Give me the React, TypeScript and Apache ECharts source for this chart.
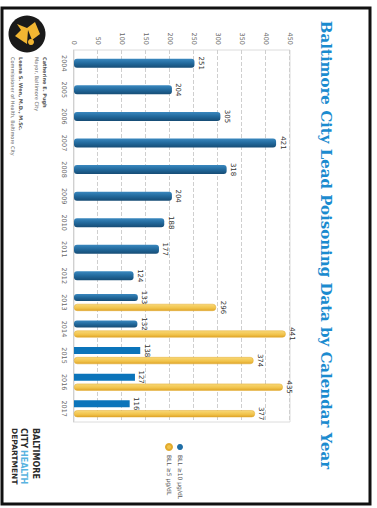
import React, { useEffect, useRef } from "react";
import * as echarts from "echarts";

const years = ["2004", "2005", "2006", "2007", "2008", "2009", "2010", "2011", "2012", "2013", "2014", "2015", "2016", "2017"];
const blueSingle = [251, 204, 305, 421, 318, 204, 188, 177, 124, null, null, null, null, null];
const blueDual = [null, null, null, null, null, null, null, null, null, 133, 132, 138, 127, 116];
const yellowDual = [null, null, null, null, null, null, null, null, null, 296, 441, 374, 435, 377];
const legendNames = ["BLL \u226510 \u00b5g/dL", "BLL \u22655 \u00b5g/dL"];
const titleText = "Baltimore City Lead Poisoning Data by Calendar Year";
const mayorLines = ["Catherine E. Pugh", "Mayor, Baltimore City"];
const commissionerLines = ["Leana S. Wen, M.D., M.Sc.", "Commissioner of Health, Baltimore City"];

export default function App() {
  const ref = useRef<HTMLDivElement>(null);
  useEffect(() => {
    if (!ref.current) return;
    const chart = echarts.init(ref.current, null, { renderer: "svg" });
    const blueGrad = new echarts.graphic.LinearGradient(0, 0, 1, 0, [
      { offset: 0, color: "#3a88bf" },
      { offset: 0.5, color: "#22699c" },
      { offset: 1, color: "#164c75" },
    ]);
    const yellowGrad = new echarts.graphic.LinearGradient(0, 0, 1, 0, [
      { offset: 0, color: "#f8d878" },
      { offset: 0.6, color: "#f1c34a" },
      { offset: 1, color: "#dea42a" },
    ]);
    const labelStyle = { show: true, position: "top", fontSize: 7, color: "#333", distance: 3, fontFamily: "DejaVu Sans" };
    chart.setOption({
      animation: false,
      backgroundColor: "#fff",
      grid: { left: 50, right: 86, top: 87, bottom: 74, show: true, borderColor: "#dcdcdc", borderWidth: 1 },
      xAxis: [
        {
          type: "category",
          data: years,
          axisLine: { show: true, lineStyle: { color: "#d0d0d0" } },
          axisTick: { show: false },
          axisLabel: { fontSize: 6.5, color: "#666", margin: 7, fontFamily: "DejaVu Sans" },
        },
        { type: "category", data: years, show: false },
      ],
      yAxis: {
        type: "value",
        min: 0,
        max: 450,
        interval: 50,
        axisLine: { show: false },
        axisTick: { show: false },
        axisLabel: { fontSize: 6.5, color: "#666", margin: 5, fontFamily: "DejaVu Sans", showMinLabel: true, showMaxLabel: true },
        splitLine: { lineStyle: { color: "#cfcfcf", type: "dashed" } },
      },
      legend: {
        orient: "vertical",
        left: 438,
        top: 189,
        itemWidth: 6,
        itemHeight: 6,
        itemGap: 4,
        icon: "circle",
        textStyle: { fontSize: 6, color: "#555", fontFamily: "DejaVu Sans" },
        data: [
          { name: legendNames[0], itemStyle: { color: "#1f6ea6" } },
          { name: legendNames[1], itemStyle: { color: "#f1c34a" } },
        ],
      },
      series: [
        {
          type: "bar",
          name: legendNames[0],
          xAxisIndex: 0,
          data: blueSingle,
          barWidth: 9,
          itemStyle: { color: blueGrad, borderRadius: 3 },
          label: labelStyle,
        },
        {
          type: "bar",
          name: legendNames[0],
          xAxisIndex: 1,
          data: blueDual.map((v, i) =>
            v == null ? null : i >= 11 ? { value: v, itemStyle: { color: "#0b74ba", borderRadius: 0 } } : v
          ),
          barWidth: 7,
          barGap: "43%",
          itemStyle: { color: blueGrad, borderRadius: 3 },
          label: labelStyle,
        },
        {
          type: "bar",
          name: legendNames[1],
          xAxisIndex: 1,
          data: yellowDual,
          barWidth: 7,
          barGap: "43%",
          itemStyle: { color: yellowGrad, borderRadius: 3, borderColor: "#e2aa2c", borderWidth: 0.5 },
          label: labelStyle,
        },
      ],
      graphic: [
        { type: "rect", shape: { x: 8, y: 7, width: 496, height: 368 }, style: { fill: "none", stroke: "#111", lineWidth: 3 }, z: 100 },
        {
          type: "text",
          x: 245,
          y: 51,
          style: {
            text: titleText,
            fill: "#1b8bcf",
            font: "bold 15px 'DejaVu Serif'",
            textAlign: "center",
            textVerticalAlign: "middle",
          },
        },
        { type: "circle", shape: { cx: 34, cy: 350, r: 18.5 }, style: { fill: "#1a1a1a" } },
        { type: "polygon", shape: { points: [[22, 342], [34, 337], [40, 345], [30, 349], [44, 350], [36, 362], [30, 356], [24, 360], [28, 350]] }, style: { fill: "#f2b632" } },
        { type: "circle", shape: { cx: 42, cy: 346, r: 3 }, style: { fill: "#f2b632" } },
        { type: "text", x: 57, y: 332, style: { text: mayorLines[0], fill: "#555", font: "bold 5px 'DejaVu Sans'", textVerticalAlign: "middle" } },
        { type: "text", x: 57, y: 340, style: { text: mayorLines[1], fill: "#666", font: "5px 'DejaVu Sans'", textVerticalAlign: "middle" } },
        { type: "text", x: 57, y: 356, style: { text: commissionerLines[0], fill: "#555", font: "bold 5px 'DejaVu Sans'", textVerticalAlign: "middle" } },
        { type: "text", x: 57, y: 364, style: { text: commissionerLines[1], fill: "#666", font: "5px 'DejaVu Sans'", textVerticalAlign: "middle" } },
        { type: "text", x: 428, y: 341.5, style: { text: "BALTIMORE", fill: "#2a2a2a", font: "bold 8px 'DejaVu Sans'", textVerticalAlign: "middle" } },
        { type: "text", x: 428, y: 353.5, style: { text: "CITY", fill: "#2a2a2a", font: "bold 8px 'DejaVu Sans'", textVerticalAlign: "middle" } },
        { type: "text", x: 450, y: 353.5, style: { text: "HEALTH", fill: "#5ab4e0", font: "bold 8px 'DejaVu Sans'", textVerticalAlign: "middle" } },
        { type: "text", x: 428, y: 362.5, style: { text: "DEPARTMENT", fill: "#2a2a2a", font: "bold 7.5px 'DejaVu Sans'", textVerticalAlign: "middle" } },
      ],
    });
    return () => chart.dispose();
  }, []);
  return (
    <div style={{ position: "fixed", left: 0, top: 0, width: 377, height: 508, overflow: "hidden", background: "#fff" }}>
      <div
        ref={ref}
        style={{
          position: "absolute",
          left: 0,
          top: 0,
          width: 508,
          height: 377,
          transformOrigin: "0 0",
          transform: "translate(377px, 0) rotate(90deg)",
        }}
      />
    </div>
  );
}
